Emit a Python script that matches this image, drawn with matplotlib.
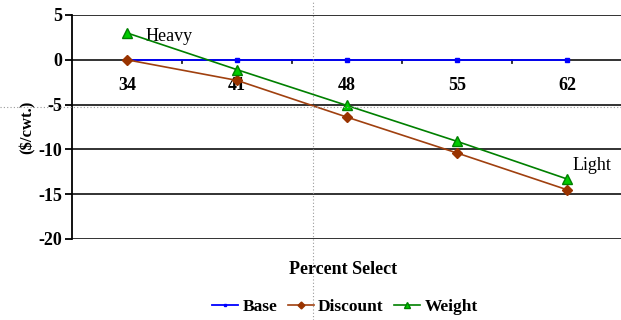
import matplotlib.pyplot as plt
from matplotlib.lines import Line2D

plt.rcParams['font.family'] = ['Liberation Serif', 'DejaVu Serif']

# percent select categories and price differences ($/cwt.)
categories = ["34", "41", "48", "55", "62"]
base = [0, 0, 0, 0, 0]
discount = [0, -2.3, -6.4, -10.4, -14.5]
weight = [3.0, -1.1, -5.1, -9.1, -13.3]

fig = plt.figure(figsize=(6.21, 3.20), dpi=100)
ax = fig.add_axes([72 / 621, 81 / 320, 550 / 621, 224 / 320])

x = range(len(categories))
ax.plot(x, base, color="#0000FF", lw=1.3, marker="s", ms=3,
        mfc="#0000FF", mec="#0000FF", label="Base", zorder=3)
ax.plot(x, discount, color="#A0400F", lw=1.2, marker="D", ms=5,
        mfc="#993300", mec="#993300", label="Discount", zorder=4)
ax.plot(x, weight, color="#008000", lw=1.2, marker="^", ms=7,
        mfc="#00CC00", mec="#008000", label="Weight", zorder=5)

ax.set_xlim(-0.5, len(categories) - 0.5)
ax.set_ylim(-20, 5)
ax.set_yticks([5, 0, -5, -10, -15, -20])
ax.set_yticklabels(["5", "0", "-5", "-10", "-15", "-20"],
                   fontsize=13, fontweight="bold")
for y in [5, -5, -10, -15, -20]:
    ax.axhline(y, color="#222222", lw=1.3, zorder=1)

# category axis sits on the zero line
for s in ["top", "right", "bottom"]:
    ax.spines[s].set_visible(False)
ax.spines["left"].set_linewidth(1.3)
ax.axhline(0, color="#222222", lw=1.3, zorder=2)
ax.tick_params(axis="y", length=5, width=1.3, pad=2)

ax.set_xticks(list(x))
ax.set_xticklabels([])
ax.tick_params(axis="x", which="both", length=0)
for i in x:
    ax.plot([i + 0.5, i + 0.5], [0, -0.4], color="#222222", lw=1.3,
            clip_on=False, zorder=2)
    ax.text(i, -2.9, categories[i], ha="center", va="center",
            fontsize=13, fontweight="bold")

ax.text(0.17, 2.6, "Heavy", fontsize=13, ha="left", va="center")
ax.text(4.05, -11.8, "Light", fontsize=13, ha="left", va="center")

ax.set_ylabel("($/cwt.)", fontsize=12, fontweight="bold", labelpad=2)
fig.text(343 / 621, 1 - 270 / 320, "Percent Select", ha="center",
         va="center", fontsize=13, fontweight="bold")

fig.legend(loc="center", bbox_to_anchor=(345 / 621, 1 - 307 / 320), ncol=3,
           frameon=False, prop={"size": 12.5, "weight": "bold"},
           handlelength=1.5, handletextpad=0.25, columnspacing=0.6,
           markerscale=0.7)

# dotted guide lines across the figure
fig.add_artist(Line2D([313 / 621, 313 / 621], [0, 1], color="#999999",
                      lw=0.8, ls=(0, (1, 2))))
fig.add_artist(Line2D([0, 1], [1 - 107 / 320, 1 - 107 / 320],
                      color="#999999", lw=0.8, ls=(0, (1, 2))))

fig.savefig("out.png", dpi=100)
